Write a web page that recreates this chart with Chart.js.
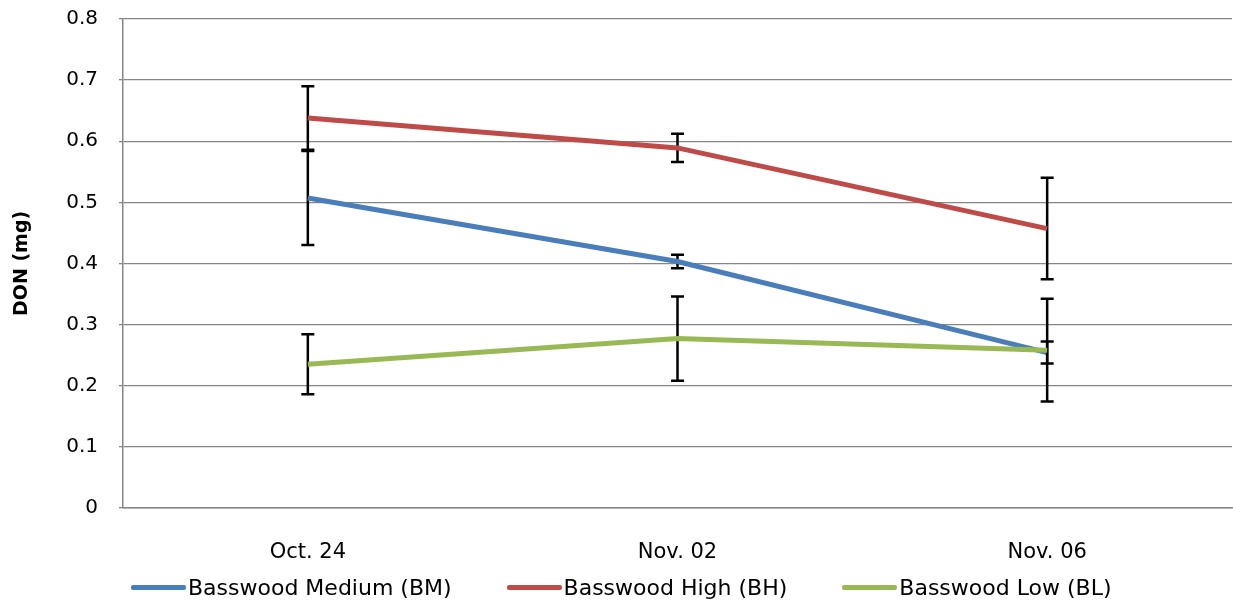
<!DOCTYPE html>
<html>
<head>
<meta charset="utf-8">
<script src="https://cdn.jsdelivr.net/npm/chart.js@4/dist/chart.umd.min.js"></script>
<style>
    html, body { margin: 0; padding: 0; background: #fff; }
    #wrap { position: relative; width: 1233px; height: 602px; }
    #legend {
        position: absolute; left: 131px; top: 575px;
        display: flex; gap: 55px;
        font-family: "DejaVu Sans", sans-serif; font-size: 22px; color: #000;
    }
    .item { display: flex; align-items: center; white-space: nowrap; }
    .swatch { width: 55px; height: 5px; border-radius: 2px; margin-right: 2px; }
</style>
</head>
<body>
<div id="wrap">
    <canvas id="donChart" width="1233" height="602"></canvas>
    <div id="legend"></div>
</div>
<script>
const dates = ['Oct. 24', 'Nov. 02', 'Nov. 06'];

const bmValues = [0.507, 0.403, 0.254];
const bmErrors = [0.077, 0.011, 0.018];
const bhValues = [0.638, 0.589, 0.457];
const bhErrors = [0.052, 0.023, 0.083];
const blValues = [0.235, 0.277, 0.258];
const blErrors = [0.049, 0.069, 0.084];

const yTicks = [0, 0.1, 0.2, 0.3, 0.4, 0.5, 0.6, 0.7, 0.8];

const gridGray = '#868686';

// error bars drawn under each line, through the y scale
const errorBars = {
    id: 'errorBars',
    beforeDatasetDraw(chart, args) {
        const ds = chart.data.datasets[args.index];
        if (!ds.errors) return;
        const ctx = chart.ctx;
        const y = chart.scales.y;
        ctx.save();
        ctx.strokeStyle = '#000';
        ctx.lineWidth = 2.5;
        args.meta.data.forEach((pt, i) => {
            const top = y.getPixelForValue(ds.data[i] + ds.errors[i]);
            const bot = y.getPixelForValue(ds.data[i] - ds.errors[i]);
            ctx.beginPath();
            ctx.moveTo(pt.x, top); ctx.lineTo(pt.x, bot);
            ctx.moveTo(pt.x - 6.5, top); ctx.lineTo(pt.x + 6.5, top);
            ctx.moveTo(pt.x - 6.5, bot); ctx.lineTo(pt.x + 6.5, bot);
            ctx.stroke();
        });
        ctx.restore();
    }
};

const htmlLegend = {
    id: 'htmlLegend',
    afterUpdate(chart) {
        let html = '';
        chart.data.datasets.forEach(ds => {
            html += `<div class="item"><span class="swatch" style="background:${ds.borderColor}"></span>${ds.label}</div>`;
        });
        document.getElementById('legend').innerHTML = html;
    }
};

function series(label, values, errors, color, order) {
    return {
        label: label,
        data: values,
        errors: errors,
        borderColor: color,
        backgroundColor: color,
        borderWidth: 5,
        pointRadius: 0,
        tension: 0,
        order: order
    };
}

new Chart(document.getElementById('donChart'), {
    type: 'line',
    data: {
        labels: dates,
        datasets: [
            series('Basswood Medium (BM)', bmValues, bmErrors, '#4A7EBB', 3),
            series('Basswood High (BH)', bhValues, bhErrors, '#BE4B48', 2),
            series('Basswood Low (BL)', blValues, blErrors, '#98B954', 1)
        ]
    },
    options: {
        responsive: false,
        animation: false,
        layout: { padding: { top: 19, right: 1, bottom: 13, left: 0 } },
        plugins: {
            legend: { display: false },
            tooltip: { enabled: false }
        },
        scales: {
            x: {
                offset: true,
                grid: { display: false },
                border: { color: gridGray, width: 1.5 },
                ticks: {
                    padding: 24,
                    color: '#000',
                    font: { family: 'DejaVu Sans', size: 21 }
                }
            },
            y: {
                min: 0,
                max: 0.8,
                afterFit(scale) {
                    scale.width = 123;
                    scale.paddingTop = 0;
                    scale.paddingBottom = 0;
                },
                afterBuildTicks(scale) { scale.ticks = yTicks.map(v => ({ value: v })); },
                grid: { color: gridGray, lineWidth: 1.3, tickLength: 4 },
                border: { color: gridGray, width: 1.5 },
                ticks: {
                    padding: 21,
                    color: '#000',
                    font: { family: 'DejaVu Sans', size: 20 },
                    callback: v => String(Math.round(v * 10) / 10)
                },
                title: {
                    display: true,
                    text: 'DON (mg)',
                    color: '#000',
                    padding: { top: 11, bottom: 0 },
                    font: { family: 'DejaVu Sans', size: 19, weight: 'bold' }
                }
            }
        }
    },
    plugins: [errorBars, htmlLegend]
});
</script>
</body>
</html>
